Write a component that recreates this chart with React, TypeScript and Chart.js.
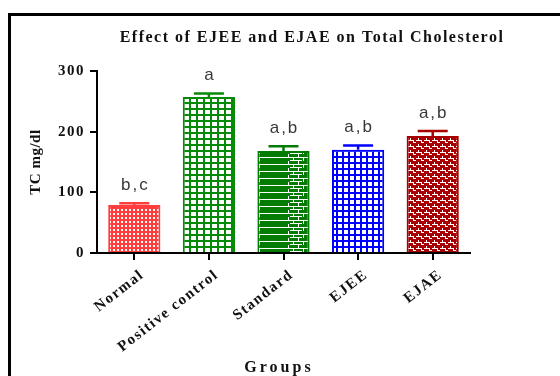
import React, { useEffect, useRef } from 'react';
import { Chart, registerables } from 'chart.js';

Chart.register(...registerables);

// ---- data ----
const categories = ['Normal', 'Positive control', 'Standard', 'EJEE', 'EJAE'];
const tcValues = [79, 257, 168, 170, 193];
const tcErrors = [3, 6, 8, 7, 8];
const sigLetters = ['b,c', 'a', 'a,b', 'a,b', 'a,b'];
const yTickValues = [0, 100, 200, 300];
const chartTitle = 'Effect of EJEE and EJAE on Total Cholesterol';
const yAxisTitle = 'TC mg/dl';
const xAxisTitle = 'Groups';

// ---- styles ----
const barColors = ['#ff3d3d', '#078a07', '#047c04', '#0000ff', '#a80000'];
const barPatterns = ['dots', 'grid', 'hbrick', 'fine', 'brick'];
const SERIF = '"Liberation Serif", "DejaVu Serif", serif';
const SANS = '"Liberation Sans", Arial, sans-serif';

function makePattern(kind: string, color: string): CanvasPattern | string {
  const c = document.createElement('canvas');
  const g = c.getContext('2d');
  if (!g) return color;
  const W = '#ffffff';
  if (kind === 'dots') {
    c.width = 4; c.height = 4;
    g.fillStyle = color; g.fillRect(0, 0, 4, 4);
    g.fillStyle = W; g.fillRect(1, 1, 2, 2);
  } else if (kind === 'grid') {
    c.width = 7; c.height = 6;
    g.fillStyle = W; g.fillRect(0, 0, 7, 6);
    g.fillStyle = color; g.fillRect(0, 0, 2, 6); g.fillRect(0, 0, 7, 2);
  } else if (kind === 'fine') {
    c.width = 6; c.height = 6;
    g.fillStyle = W; g.fillRect(0, 0, 6, 6);
    g.fillStyle = color; g.fillRect(0, 0, 2, 6); g.fillRect(0, 0, 6, 2);
  } else if (kind === 'hbrick') {
    c.width = 44; c.height = 7;
    g.fillStyle = color; g.fillRect(0, 0, 44, 7);
    g.fillStyle = W;
    g.fillRect(0, 3, 44, 1);
    g.fillRect(24, 0, 1, 3); g.fillRect(34, 0, 1, 3);
    g.fillRect(29, 4, 1, 3); g.fillRect(39, 4, 1, 3);
    g.fillRect(26, 6, 12, 1);
  } else {
    c.width = 8; c.height = 6;
    g.fillStyle = color; g.fillRect(0, 0, 8, 6);
    g.fillStyle = W;
    g.fillRect(0, 2, 5, 1);
    g.fillRect(5, 2, 1, 3);
    g.fillRect(5, 4, 3, 1);
    g.fillRect(2, 0, 1, 2);
  }
  return g.createPattern(c, 'repeat') || color;
}

const decorPlugin = {
  id: 'decor',
  beforeDraw(chart: any) {
    const ctx = chart.ctx as CanvasRenderingContext2D;
    ctx.save();
    ctx.strokeStyle = '#000';
    ctx.lineWidth = 3;
    ctx.strokeRect(9.5, 14.5, 700, 500);
    ctx.restore();
    (ctx as any).letterSpacing = '1.5px';
  },
  afterDatasetsDraw(chart: any) {
    const ctx = chart.ctx as CanvasRenderingContext2D;
    const yScale = chart.scales.y;
    const meta = chart.getDatasetMeta(0);
    ctx.save();
    meta.data.forEach((bar: any, i: number) => {
      const topVal = tcValues[i] + tcErrors[i];
      const yTop = yScale.getPixelForValue(topVal);
      const yBar = yScale.getPixelForValue(tcValues[i]);
      ctx.strokeStyle = barColors[i];
      ctx.lineWidth = 2.5;
      ctx.beginPath();
      ctx.moveTo(bar.x, yBar);
      ctx.lineTo(bar.x, yTop);
      ctx.moveTo(bar.x - 15, yTop);
      ctx.lineTo(bar.x + 15, yTop);
      ctx.stroke();
      (ctx as any).letterSpacing = '2px';
      ctx.fillStyle = '#383838';
      ctx.font = `17px ${SANS}`;
      ctx.textAlign = 'center';
      ctx.textBaseline = 'middle';
      ctx.fillText(sigLetters[i], bar.x + 1, yTop - 18);
    });
    ctx.restore();
  },
  afterDraw(chart: any) {
    const ctx = chart.ctx as CanvasRenderingContext2D;
    const area = chart.chartArea;
    ctx.save();
    ctx.fillStyle = '#111';
    ctx.textAlign = 'center';
    ctx.textBaseline = 'middle';
    (ctx as any).letterSpacing = '1.5px';
    ctx.font = `bold 16px ${SERIF}`;
    ctx.fillText(chartTitle, 312, 38);
    (ctx as any).letterSpacing = '3px';
    ctx.font = `bold 16px ${SERIF}`;
    ctx.fillText(xAxisTitle, 279, 368);
    (ctx as any).letterSpacing = '0.5px';
    ctx.font = `bold 15px ${SERIF}`;
    ctx.translate(36, (area.top + area.bottom) / 2);
    ctx.rotate(-Math.PI / 2);
    ctx.fillText(yAxisTitle, 0, 0);
    ctx.restore();
    (ctx as any).letterSpacing = '0px';
  },
};

export default function App() {
  const ref = useRef<HTMLCanvasElement>(null);
  useEffect(() => {
    if (!ref.current) return;
    const chart = new Chart(ref.current, {
      type: 'bar',
      data: {
        labels: categories,
        datasets: [
          {
            data: tcValues,
            backgroundColor: barColors.map((c, i) => makePattern(barPatterns[i], c)) as any,
            borderColor: barColors,
            borderWidth: 2,
            barPercentage: 0.7,
            categoryPercentage: 1,
          },
        ],
      },
      options: {
        responsive: false,
        animation: false,
        devicePixelRatio: 1,
        layout: { padding: { top: 71, right: 90, left: 0, bottom: 0 } },
        plugins: {
          legend: { display: false },
          tooltip: { enabled: false },
          title: { display: false },
        },
        scales: {
          x: {
            type: 'category',
            offset: true,
            grid: {
              display: true,
              drawOnChartArea: false,
              drawTicks: true,
              tickLength: 7,
              color: '#000',
              lineWidth: 2,
              offset: false,
            },
            border: { display: true, color: '#000', width: 2, z: 1 },
            ticks: {
              font: { family: SERIF, size: 15, weight: 'bold' },
              color: '#111',
              minRotation: 38,
              maxRotation: 38,
              padding: 6,
              labelOffset: 8,
              autoSkip: false,
            },
            afterFit: (s: any) => {
              s.height = 123;
              s.paddingLeft = 0;
              s.paddingRight = 0;
            },
          },
          y: {
            min: 0,
            max: 300,
            afterBuildTicks: (s: any) => {
              s.ticks = yTickValues.map((v) => ({ value: v }));
            },
            grid: {
              display: true,
              drawOnChartArea: false,
              tickLength: 7,
              color: '#000',
              lineWidth: 2,
            },
            border: { display: true, color: '#000', width: 2, z: 1 },
            ticks: {
              font: { family: SERIF, size: 15, weight: 'bold' },
              color: '#111',
              padding: 5,
            },
            afterFit: (s: any) => {
              s.width = 97;
              s.paddingTop = 0;
              s.paddingBottom = 0;
            },
          },
        },
      },
      plugins: [decorPlugin],
    });
    return () => chart.destroy();
  }, []);
  return (
    <div style={{ position: 'absolute', left: 0, top: 0, width: 560, height: 376, background: '#fff' }}>
      <canvas ref={ref} width={560} height={376} style={{ display: 'block' }} />
    </div>
  );
}
